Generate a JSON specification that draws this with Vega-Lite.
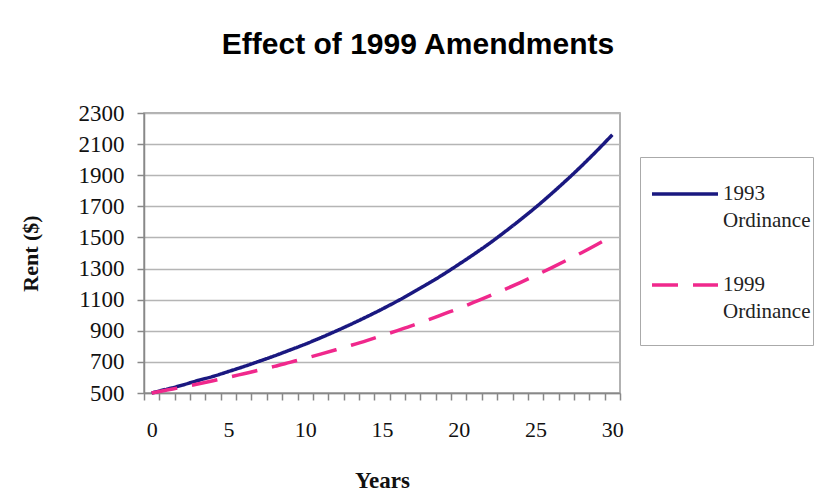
{
  "$schema": "https://vega.github.io/schema/vega-lite/v6.json",
  "autosize": "none",
  "width": 476,
  "height": 280,
  "padding": {"left": 144, "top": 113, "right": 194, "bottom": 111},
  "background": "white",
  "title": {
    "text": "Effect of 1999 Amendments",
    "font": "Liberation Sans",
    "fontSize": 30,
    "fontWeight": "bold",
    "color": "#000000",
    "anchor": "middle",
    "frame": "group",
    "dx": 36,
    "offset": 42
  },
  "data": {
    "values": [
      {"year": 0, "series": "1993 Ordinance", "rent": 500},
      {"year": 1, "series": "1993 Ordinance", "rent": 525},
      {"year": 2, "series": "1993 Ordinance", "rent": 551},
      {"year": 3, "series": "1993 Ordinance", "rent": 580},
      {"year": 4, "series": "1993 Ordinance", "rent": 607},
      {"year": 5, "series": "1993 Ordinance", "rent": 638},
      {"year": 6, "series": "1993 Ordinance", "rent": 670},
      {"year": 7, "series": "1993 Ordinance", "rent": 704},
      {"year": 8, "series": "1993 Ordinance", "rent": 739},
      {"year": 9, "series": "1993 Ordinance", "rent": 776},
      {"year": 10, "series": "1993 Ordinance", "rent": 814},
      {"year": 11, "series": "1993 Ordinance", "rent": 855},
      {"year": 12, "series": "1993 Ordinance", "rent": 898},
      {"year": 13, "series": "1993 Ordinance", "rent": 943},
      {"year": 14, "series": "1993 Ordinance", "rent": 990},
      {"year": 15, "series": "1993 Ordinance", "rent": 1039},
      {"year": 16, "series": "1993 Ordinance", "rent": 1091},
      {"year": 17, "series": "1993 Ordinance", "rent": 1146},
      {"year": 18, "series": "1993 Ordinance", "rent": 1203},
      {"year": 19, "series": "1993 Ordinance", "rent": 1263},
      {"year": 20, "series": "1993 Ordinance", "rent": 1327},
      {"year": 21, "series": "1993 Ordinance", "rent": 1393},
      {"year": 22, "series": "1993 Ordinance", "rent": 1462},
      {"year": 23, "series": "1993 Ordinance", "rent": 1536},
      {"year": 24, "series": "1993 Ordinance", "rent": 1613},
      {"year": 25, "series": "1993 Ordinance", "rent": 1693},
      {"year": 26, "series": "1993 Ordinance", "rent": 1778},
      {"year": 27, "series": "1993 Ordinance", "rent": 1867},
      {"year": 28, "series": "1993 Ordinance", "rent": 1960},
      {"year": 29, "series": "1993 Ordinance", "rent": 2058},
      {"year": 30, "series": "1993 Ordinance", "rent": 2160},
      {"year": 0, "series": "1999 Ordinance", "rent": 500},
      {"year": 1, "series": "1999 Ordinance", "rent": 519},
      {"year": 2, "series": "1999 Ordinance", "rent": 538},
      {"year": 3, "series": "1999 Ordinance", "rent": 558},
      {"year": 4, "series": "1999 Ordinance", "rent": 579},
      {"year": 5, "series": "1999 Ordinance", "rent": 601},
      {"year": 6, "series": "1999 Ordinance", "rent": 624},
      {"year": 7, "series": "1999 Ordinance", "rent": 647},
      {"year": 8, "series": "1999 Ordinance", "rent": 671},
      {"year": 9, "series": "1999 Ordinance", "rent": 697},
      {"year": 10, "series": "1999 Ordinance", "rent": 723},
      {"year": 11, "series": "1999 Ordinance", "rent": 750},
      {"year": 12, "series": "1999 Ordinance", "rent": 778},
      {"year": 13, "series": "1999 Ordinance", "rent": 807},
      {"year": 14, "series": "1999 Ordinance", "rent": 837},
      {"year": 15, "series": "1999 Ordinance", "rent": 869},
      {"year": 16, "series": "1999 Ordinance", "rent": 901},
      {"year": 17, "series": "1999 Ordinance", "rent": 935},
      {"year": 18, "series": "1999 Ordinance", "rent": 970},
      {"year": 19, "series": "1999 Ordinance", "rent": 1007},
      {"year": 20, "series": "1999 Ordinance", "rent": 1044},
      {"year": 21, "series": "1999 Ordinance", "rent": 1084},
      {"year": 22, "series": "1999 Ordinance", "rent": 1124},
      {"year": 23, "series": "1999 Ordinance", "rent": 1166},
      {"year": 24, "series": "1999 Ordinance", "rent": 1210},
      {"year": 25, "series": "1999 Ordinance", "rent": 1256},
      {"year": 26, "series": "1999 Ordinance", "rent": 1303},
      {"year": 27, "series": "1999 Ordinance", "rent": 1352},
      {"year": 28, "series": "1999 Ordinance", "rent": 1402},
      {"year": 29, "series": "1999 Ordinance", "rent": 1455},
      {"year": 30, "series": "1999 Ordinance", "rent": 1510}
    ]
  },
  "layer": [
    {
      "mark": {"type": "line", "strokeWidth": 3.5, "interpolate": "monotone"},
      "encoding": {
        "x": {
          "field": "year",
          "type": "quantitative",
          "scale": {"domain": [-0.5, 30.5], "nice": false, "zero": false},
          "axis": {
            "title": "Years",
            "values": [0, 5, 10, 15, 20, 25, 30],
            "ticks": false,
            "grid": false,
            "domain": true,
            "domainColor": "#888888",
            "domainWidth": 1.5,
            "labelFont": "Liberation Serif",
            "labelFontSize": 22,
            "labelColor": "#111111",
            "labelPadding": 26,
            "labelOverlap": false,
            "labelFlush": false,
            "titleFont": "Liberation Serif",
            "titleFontSize": 23,
            "titleFontWeight": "bold",
            "titleColor": "#111111",
            "titlePadding": 29
          }
        },
        "y": {
          "field": "rent",
          "type": "quantitative",
          "scale": {"domain": [500, 2300], "nice": false, "zero": false},
          "axis": {
            "title": "Rent ($)",
            "values": [500, 700, 900, 1100, 1300, 1500, 1700, 1900, 2100, 2300],
            "format": "d",
            "grid": true,
            "gridColor": "#b5b5b5",
            "gridWidth": 1.5,
            "ticks": true,
            "tickSize": 7,
            "tickColor": "#888888",
            "tickWidth": 1.5,
            "domainColor": "#888888",
            "domainWidth": 1.5,
            "labelFont": "Liberation Serif",
            "labelFontSize": 23,
            "labelColor": "#111111",
            "labelPadding": 13,
            "labelOverlap": false,
            "labelFlush": false,
            "labelBound": false,
            "titleFont": "Liberation Serif",
            "titleFontSize": 22,
            "titleFontWeight": "bold",
            "titleColor": "#111111",
            "titlePadding": 36
          }
        },
        "color": {
          "field": "series",
          "type": "nominal",
          "scale": {"domain": ["1993 Ordinance", "1999 Ordinance"], "range": ["#1a1880", "#f0288c"]},
          "legend": {
            "orient": "none",
            "legendX": 496,
            "legendY": 44,
            "title": " ",
            "titleOrient": "bottom",
            "titleFontSize": 12,
            "titlePadding": 10,
            "strokeColor": "#aaaaaa",
            "padding": 2,
            "symbolOffset": 8,
            "symbolType": "stroke",
            "symbolSize": 4356,
            "symbolStrokeWidth": 3.5,
            "labelFont": "Liberation Serif",
            "labelFontSize": 21,
            "labelColor": "#222222",
            "labelOffset": 3,
            "labelExpr": "split(datum.label, ' ')",
            "labelLimit": 300,
            "rowPadding": 19
          }
        },
        "strokeDash": {
          "field": "series",
          "type": "nominal",
          "scale": {"domain": ["1993 Ordinance", "1999 Ordinance"], "range": [[1, 0], [26, 15]]},
          "legend": null
        }
      }
    },
    {
      "mark": {"type": "point", "opacity": 0},
      "encoding": {
        "x": {
          "field": "year",
          "type": "quantitative",
          "axis": {
            "orient": "bottom",
            "title": null,
            "labels": false,
            "grid": false,
            "domain": false,
            "values": [-0.5, 0.5, 1.5, 2.5, 3.5, 4.5, 5.5, 6.5, 7.5, 8.5, 9.5, 10.5, 11.5, 12.5, 13.5, 14.5, 15.5, 16.5, 17.5, 18.5, 19.5, 20.5, 21.5, 22.5, 23.5, 24.5, 25.5, 26.5, 27.5, 28.5, 29.5, 30.5],
            "ticks": true,
            "tickSize": 7,
            "tickColor": "#888888",
            "tickWidth": 1.5
          }
        }
      }
    }
  ],
  "resolve": {"axis": {"x": "independent"}},
  "config": {
    "view": {"stroke": "#999999", "strokeWidth": 1.5},
    "font": "Liberation Serif",
    "axis": {"labelOverlap": false},
    "style": {"guide-label": {"lineHeight": 27}}
  }
}
